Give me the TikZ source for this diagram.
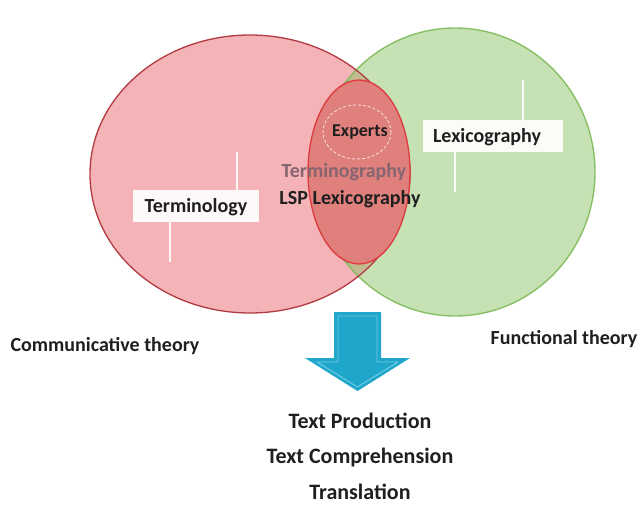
\documentclass[tikz,border=0pt]{standalone}
\usepackage{fontspec}
\setmainfont{Carlito}
\begin{document}
\begin{tikzpicture}[x=1pt,y=-1pt,
  lbl/.style={font=\bfseries\fontsize{20}{24}\selectfont, text=black!88, inner sep=0pt},
  biglbl/.style={lbl, font=\bfseries\fontsize{22}{26}\selectfont},
  wbox/.style={fill=white, opacity=.92, text opacity=1, minimum height=32pt, inner sep=0pt},
  wline/.style={draw=white, line width=2.5pt, opacity=.9}]
\useasboundingbox (0,0) rectangle (641,506);
\definecolor{redfill}{HTML}{F4B3B6}
\definecolor{redline}{HTML}{B23A40}
\definecolor{greenfill}{HTML}{8DC56B}
\definecolor{greenline}{HTML}{78B852}
\definecolor{lensfill}{HTML}{E0807C}
\definecolor{lensline}{HTML}{DC3A3C}
\definecolor{arrowfill}{HTML}{1FA6CB}
\definecolor{arrowedge}{HTML}{74CDE4}
\definecolor{termgr}{HTML}{856570}
% ellipses
\fill[redfill] (250,174) ellipse [x radius=160, y radius=139];
\fill[greenfill, opacity=.5] (455,172) ellipse [x radius=140, y radius=144];
\draw[greenline, line width=1.4pt, opacity=.85] (455,172) ellipse [x radius=140, y radius=144];
\draw[redline, line width=1.3pt] (250,174) ellipse [x radius=160, y radius=139];
\fill[lensfill] (359,172) ellipse [x radius=51, y radius=92];
\draw[lensline, line width=1.3pt] (359,172) ellipse [x radius=51, y radius=92];
\draw[white, line width=.8pt, opacity=.75, dash pattern=on 3pt off 2pt] (357,132) ellipse [x radius=34, y radius=27];
% centre texts
\node[lbl, font=\bfseries\fontsize{18}{21}\selectfont] (experts) at (360,132) {Experts};
\node[lbl, text=termgr] (termgraph) at (344,172) {Terminography};
\node[lbl] (lsp) at (350,199) {LSP Lexicography};
% label boxes
\node[wbox, minimum width=126pt] (termbox) at (196,206) {};
\node[lbl] (term) at (196,207) {Terminology};
\node[wbox, minimum width=140pt] (lexbox) at (493,136) {};
\node[lbl] (lex) at (487,137) {Lexicography};
\coordinate (tu) at (237,152);
\coordinate (td) at (170,262);
\coordinate (lu) at (523,80);
\coordinate (ld) at (455,192);
\draw[wline] (termbox.north -| tu) -- (tu);
\draw[wline] (termbox.south -| td) -- (td);
\draw[wline] (lexbox.north -| lu) -- (lu);
\draw[wline] (lexbox.south -| ld) -- (ld);
% theories
\node[lbl] (comm) at (105,346) {Communicative theory};
\node[lbl] (func) at (564,339) {Functional theory};
% arrow
\fill[arrowfill] (334,312) -- (381,312) -- (381,358) -- (410,358) -- (357.5,391) -- (305,358) -- (334,358) -- cycle;
\draw[arrowedge, line width=.9pt, line join=round] (338,316) -- (377,316) -- (377,362) -- (398,362) -- (357.5,387) -- (317,362) -- (338,362) -- cycle;
% outputs
\node[biglbl] (prod) at (360,421) {Text Production};
\node[biglbl] (comp) at (360,458) {Text Comprehension};
\node[biglbl] (trans) at (360,492) {Translation};
\end{tikzpicture}
\end{document}
